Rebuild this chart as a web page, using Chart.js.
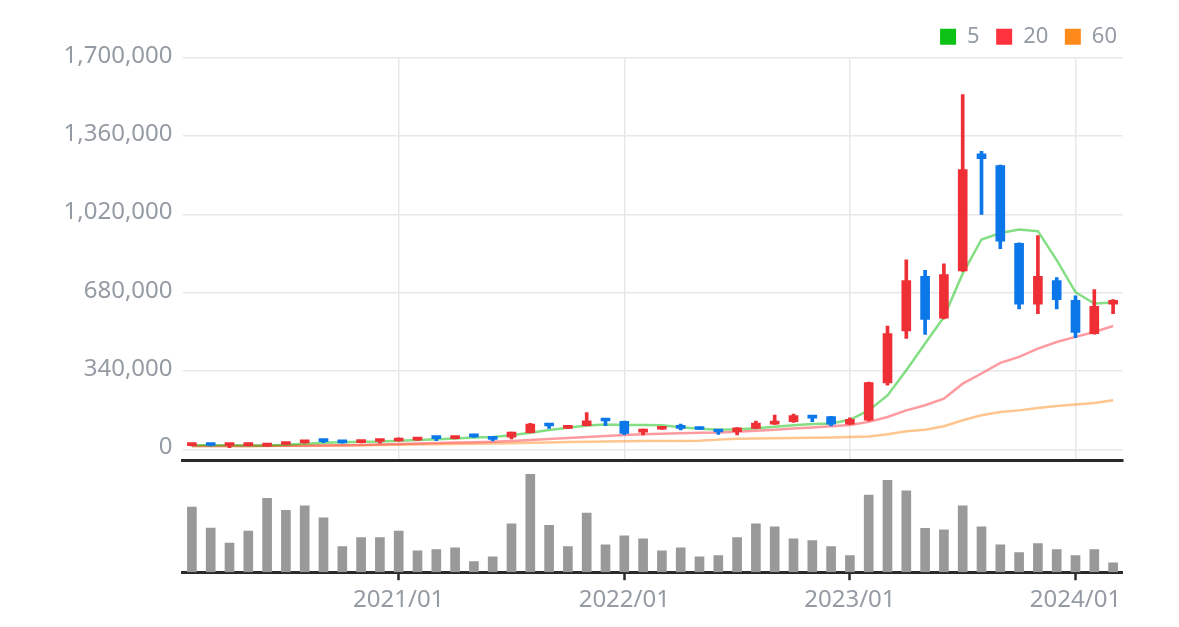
<!DOCTYPE html>
<html>
<head>
<meta charset="utf-8">
<script src="https://cdn.jsdelivr.net/npm/chart.js@4.4.1/dist/chart.umd.min.js"></script>
<style>
  html, body { margin: 0; padding: 0; background: #fff; }
  #wrap { position: relative; width: 1179px; height: 627px; overflow: hidden; }
  #priceBox { position: absolute; left: 0; top: 0; width: 1179px; height: 462px; }
  #volBox { position: absolute; left: 0; top: 462px; width: 1179px; height: 165px; }
</style>
</head>
<body>
<div id="wrap">
  <div id="priceBox"><canvas id="priceChart"></canvas></div>
  <div id="volBox"><canvas id="volChart"></canvas></div>
</div>
<script>
// monthly candles, 2020/02 - 2024/03
const months = [
  '2020/02', '2020/03', '2020/04', '2020/05', '2020/06', '2020/07', '2020/08', '2020/09', '2020/10', '2020/11', '2020/12',
  '2021/01', '2021/02', '2021/03', '2021/04', '2021/05', '2021/06', '2021/07', '2021/08', '2021/09', '2021/10', '2021/11', '2021/12',
  '2022/01', '2022/02', '2022/03', '2022/04', '2022/05', '2022/06', '2022/07', '2022/08', '2022/09', '2022/10', '2022/11', '2022/12',
  '2023/01', '2023/02', '2023/03', '2023/04', '2023/05', '2023/06', '2023/07', '2023/08', '2023/09', '2023/10', '2023/11', '2023/12',
  '2024/01', '2024/02', '2024/03'
];
const opens = [16000, 19500, 16500, 16000, 14000, 21000, 28000, 40000, 32500, 29000, 34000,
  36000, 40000, 55000, 46000, 62000, 52000, 53000, 72000, 109000, 91000, 103000, 132000,
  121000, 74000, 87000, 100000, 96000, 84000, 76000, 91000, 109000, 120000, 146000, 142000,
  109000, 126000, 288000, 514000, 751000, 569000, 774000, 1283000, 1232000, 894000, 630000, 732000,
  647000, 502000, 630000];
const highs = [21000, 20500, 20000, 20000, 18000, 27000, 34000, 41000, 33500, 34000, 40000,
  50000, 46000, 56000, 56000, 63000, 53000, 75000, 113000, 110000, 101000, 159000, 133000,
  122000, 88000, 97000, 109000, 96500, 84500, 94000, 123000, 149000, 153000, 147000, 143000,
  137000, 292000, 535000, 822000, 777000, 805000, 1540000, 1293000, 1234000, 896000, 928000, 745000,
  666000, 693000, 650000];
const lows = [15000, 15000, 7000, 15000, 13000, 20000, 27000, 29000, 27000, 28000, 27000,
  35000, 39000, 37000, 45000, 52000, 36000, 45000, 71000, 91000, 90000, 102000, 103000,
  63000, 62000, 86000, 84000, 85000, 65000, 62000, 90000, 108000, 117000, 120000, 101000,
  108000, 123000, 278000, 481000, 499000, 566000, 772000, 1020000, 871000, 609000, 589000, 609000,
  485000, 500000, 589000];
const closes = [20000, 16500, 19500, 19500, 17500, 26000, 33000, 33000, 28000, 33500, 39000,
  42000, 45000, 46000, 55000, 54000, 43000, 75000, 109000, 101000, 100000, 124000, 123000,
  69000, 88000, 96000, 91000, 86000, 75000, 93000, 114000, 120000, 146000, 135000, 109000,
  130000, 290000, 502000, 732000, 564000, 758000, 1214000, 1262000, 903000, 630000, 751000, 650000,
  507000, 621000, 647000];
const volumes = [195, 132, 87, 123, 221, 185, 199, 163, 77, 104, 104,
  123, 64, 68, 73, 32, 46, 145, 293, 140, 77, 177, 82,
  109, 100, 64, 73, 46, 50, 104, 145, 136, 100, 95, 77,
  50, 231, 275, 244, 131, 127, 199, 136, 82, 59, 86, 68,
  50, 68, 28];
const ma5 = [18000, 18000, 18000, 17000, 17000, 20000, 24000, 28000, 31000, 33000, 34000,
  37000, 40000, 44000, 47000, 51000, 53000, 61000, 72000, 84000, 94000, 103000, 108000,
  106000, 105000, 104000, 96000, 89000, 85000, 87000, 91000, 98000, 104000, 110000, 112000,
  128000, 169000, 234000, 343000, 459000, 574000, 763000, 911000, 939000, 954000, 947000, 821000,
  682000, 633000, 637000];
const ma20 = [14000, 14000, 14000, 14000, 15000, 15000, 16000, 17000, 18000, 19000, 21000,
  23000, 25000, 27000, 29000, 31000, 33000, 36000, 40000, 45000, 49000, 53000, 58000,
  62000, 65000, 68000, 70000, 72000, 73000, 76000, 80000, 85000, 90000, 95000, 100000,
  106000, 119000, 140000, 169000, 191000, 220000, 285000, 329000, 375000, 401000, 437000, 466000,
  488000, 509000, 535000];
const ma60 = [14000, 14000, 14000, 14000, 14000, 15000, 15000, 16000, 17000, 18000, 19000,
  20000, 21000, 22000, 23000, 24000, 25000, 26000, 28000, 30000, 32000, 33000, 34000,
  35000, 36000, 36000, 36000, 37000, 42000, 46000, 47000, 48000, 49000, 50000, 51000,
  53000, 56000, 65000, 78000, 85000, 100000, 126000, 148000, 162000, 169000, 179000, 188000,
  194000, 201000, 213000];
const maNames = ['5', '20', '60'];
const yTicks = [0, 340000, 680000, 1020000, 1360000, 1700000];

const FONT = "'Noto Sans', sans-serif";
const TEXT = '#959ba4';
const GRID = '#e7e8ec';
const AXIS = '#2a2a2a';
const lineColors = ['rgba(10,190,10,0.5)', 'rgba(255,55,65,0.5)', 'rgba(255,140,30,0.5)'];
const legendColors = ['#0cc214', '#ff3340', '#ff8a1c'];
const isJan = i => months[i] !== undefined && months[i].endsWith('/01');
const candleColors = closes.map((c, i) => c >= opens[i] ? '#ee3036' : '#0c77e9');

const maSets = [ma5, ma20, ma60].map((d, k) => ({
  type: 'line',
  label: maNames[k],
  data: d,
  borderColor: lineColors[k],
  backgroundColor: legendColors[k],
  borderWidth: 2.5,
  pointRadius: 0,
  tension: 0,
  order: 2
}));

new Chart(document.getElementById('priceChart'), {
  type: 'bar',
  data: {
    labels: months,
    datasets: [
      {
        label: 'body',
        data: opens.map((o, i) => [o, closes[i]]),
        backgroundColor: candleColors,
        barThickness: 9,
        minBarLength: 3,
        grouped: false,
        order: 0
      },
      {
        label: 'wick',
        data: lows.map((l, i) => [l, highs[i]]),
        backgroundColor: candleColors,
        barThickness: 3,
        grouped: false,
        order: 1
      },
      ...maSets
    ]
  },
  options: {
    responsive: true,
    maintainAspectRatio: false,
    animation: false,
    layout: { padding: { top: 5, right: 45.5, bottom: 2, left: 0 } },
    plugins: {
      tooltip: { enabled: false },
      legend: {
        position: 'top',
        align: 'end',
        labels: {
          color: TEXT,
          font: { family: FONT, size: 22 },
          boxWidth: 16,
          boxHeight: 16,
          padding: 16.5,
          generateLabels: () => maNames.map((n, k) => ({
            text: n,
            fillStyle: legendColors[k],
            strokeStyle: legendColors[k],
            lineWidth: 0,
            fontColor: TEXT,
            hidden: false,
            datasetIndex: k + 2
          }))
        }
      }
    },
    scales: {
      x: {
        offset: true,
        grid: {
          offset: false,
          drawTicks: false,
          lineWidth: 1.5,
          color: ctx => isJan(ctx.index) ? GRID : 'rgba(0,0,0,0)'
        },
        border: { display: true, color: AXIS, width: 3 },
        ticks: { display: false, autoSkip: false }
      },
      y: {
        min: -46450,
        max: 1700000,
        afterBuildTicks: s => { s.ticks = yTicks.map(v => ({ value: v })); },
        afterFit: s => { s.width = 182.5; s.paddingTop = 57.7; s.paddingBottom = 0; },
        grid: { color: GRID, lineWidth: 1.5, drawTicks: false },
        border: { display: false },
        ticks: {
          color: TEXT,
          padding: 10,
          labelOffset: -2,
          font: { family: FONT, size: 24 },
          callback: v => v.toLocaleString('en-US')
        }
      },
      yRight: {
        position: 'right',
        display: true,
        grid: { display: false },
        border: { display: false },
        ticks: { display: false },
        afterFit: s => { s.width = 11; }
      }
    }
  }
});

new Chart(document.getElementById('volChart'), {
  type: 'bar',
  data: {
    labels: months,
    datasets: [{
      label: 'volume',
      data: volumes,
      backgroundColor: '#999999',
      barThickness: 9
    }]
  },
  options: {
    responsive: true,
    maintainAspectRatio: false,
    animation: false,
    layout: { padding: { top: 0, right: 56.5, bottom: 6, left: 182.5 } },
    plugins: { legend: { display: false }, tooltip: { enabled: false } },
    scales: {
      x: {
        offset: true,
        grid: {
          offset: false,
          drawOnChartArea: false,
          drawTicks: true,
          tickLength: 8,
          tickWidth: 2.5,
          tickColor: ctx => isJan(ctx.index) ? AXIS : 'rgba(0,0,0,0)',
          color: 'rgba(0,0,0,0)'
        },
        border: { display: true, color: AXIS, width: 3 },
        ticks: {
          autoSkip: false,
          maxRotation: 0,
          padding: 6,
          color: TEXT,
          font: { family: FONT, size: 24 },
          callback: (v, i) => isJan(i) ? months[i] : ''
        }
      },
      y: { display: false, min: 0, max: 330 }
    }
  }
});
</script>
</body>
</html>
